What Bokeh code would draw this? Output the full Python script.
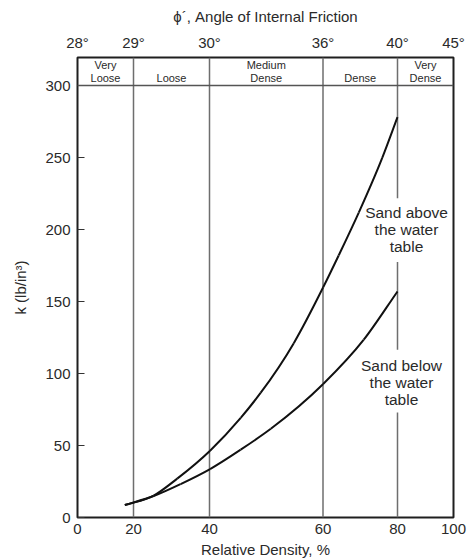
import numpy as np
from bokeh.plotting import figure
from bokeh.models import Range1d, LinearAxis, FixedTicker, Span
from bokeh.core.properties import value
from bokeh.embed import file_html
from bokeh.resources import INLINE

# ---------------- data ----------------
density_ticks = [0, 20, 40, 60, 80, 100]
density_labels = ["0", "20", "40", "60", "80", "100"]
phi_labels = ["28°", "29°", "30°", "36°", "40°", "45°"]
density_classes = ["Very\nLoose", "Loose", "Medium\nDense", "Dense", "Very\nDense"]
k_ticks = [0, 50, 100, 150, 200, 250, 300]

above_dr = [16.9, 25.3, 31.5, 40.1, 45.5, 49.0, 54.85, 60.05, 64.2, 69.6, 75.9, 80]
above_k = [8.65, 15.2, 27.0, 46.4, 69.2, 86.5, 121.1, 159.9, 182.0, 211.8, 249.8, 278.1]
below_dr = [16.9, 25.3, 32.4, 40.1, 45.5, 50.8, 60.05, 70.95, 80]
below_k = [8.65, 14.9, 23.2, 33.6, 47.1, 61.6, 92.7, 123.5, 157.0]

# ---------------- layout ----------------
# the original chart uses a non-uniform density scale: drawn position of each tick
AXIS_POS = [0, 56, 132, 245.5, 320, 376]
K_TOP = 319.5


def xpos(dr):
    return np.interp(dr, density_ticks, AXIS_POS)


def smooth_curve(p, xs, ys, **kw):
    """Draw a smooth curve through the given points (cubic Hermite pieces as bezier glyphs)."""
    x = np.asarray(xs, float)
    y = np.asarray(ys, float)
    dx = np.diff(x)
    s = np.diff(y) / dx
    m = np.empty_like(x)
    m[0], m[-1] = s[0], s[-1]
    m[1:-1] = (dx[:-1] * s[1:] + dx[1:] * s[:-1]) / (dx[:-1] + dx[1:])
    x0, y0, x1, y1 = x[:-1], y[:-1], x[1:], y[1:]
    p.bezier(x0=x0, y0=y0, x1=x1, y1=y1,
             cx0=x0 + dx / 3, cy0=y0 + m[:-1] * dx / 3,
             cx1=x1 - dx / 3, cy1=y1 - m[1:] * dx / 3, **kw)


FONT = "Liberation Sans"
TXT = "#2a2a2a"
GRID = "#6e6e6e"

p = figure(width=469, height=560, x_range=Range1d(0, AXIS_POS[-1]), y_range=Range1d(0, K_TOP),
           output_backend="svg", toolbar_location=None, x_axis_type=None, y_axis_type=None,
           min_border_left=77, min_border_right=16, min_border_top=57, min_border_bottom=42)
p.xgrid.visible = False
p.ygrid.visible = False
p.outline_line_color = "#1f1f1f"
p.outline_line_width = 2
p.background_fill_color = "white"


def style_axis(ax):
    ax.axis_line_color = None
    ax.major_tick_line_color = None
    ax.minor_tick_line_color = None
    ax.major_label_text_font = FONT
    ax.major_label_text_font_size = "15px"
    ax.major_label_text_color = TXT
    ax.axis_label_text_font = FONT
    ax.axis_label_text_font_size = "15px"
    ax.axis_label_text_font_style = "normal"
    ax.axis_label_text_color = TXT


bottom = LinearAxis(ticker=FixedTicker(ticks=AXIS_POS),
                    major_label_overrides={pos: lab for pos, lab in zip(AXIS_POS, density_labels)},
                    axis_label="Relative Density, %")
style_axis(bottom)
bottom.major_label_standoff = 0
bottom.axis_label_standoff = 4
p.add_layout(bottom, "below")

top = LinearAxis(ticker=FixedTicker(ticks=AXIS_POS),
                 major_label_overrides={pos: lab for pos, lab in zip(AXIS_POS, phi_labels)},
                 axis_label="ϕ´, Angle of Internal Friction")
style_axis(top)
top.major_label_standoff = 1
top.axis_label_standoff = 6
p.add_layout(top, "above")

left = LinearAxis(ticker=FixedTicker(ticks=k_ticks), axis_label="k (lb/in³)")
style_axis(left)
left.major_tick_line_color = "#333333"
left.major_tick_line_width = 1.2
left.major_tick_in = 7
left.major_tick_out = 0
left.major_label_standoff = 7
left.axis_label_standoff = 13
p.add_layout(left, "left")

# vertical divider lines (class boundaries / tick lines)
inner = density_ticks[1:4]
p.segment(x0=xpos(inner), y0=[0] * len(inner), x1=xpos(inner), y1=[K_TOP] * len(inner),
          line_color=GRID, line_width=1.5)
# line at 80 % interrupted by the curve labels
gap_lo = [0, 116.6, 221.8]
gap_hi = [73.0, 177.5, K_TOP]
x80 = float(xpos(80))
p.segment(x0=[x80] * 3, y0=gap_lo, x1=[x80] * 3, y1=gap_hi, line_color=GRID, line_width=1.5)

# horizontal line under the density classes
p.add_layout(Span(location=300, dimension="width", line_color="#555555", line_width=1.5))

# density class names
mids = [(AXIS_POS[i] + AXIS_POS[i + 1]) / 2 for i in range(len(density_classes))]
p.text(x=mids, y=[301.2] * len(mids), text=density_classes, text_align="center",
       text_baseline="bottom", text_font=value(FONT), text_font_size="11px",
       text_color=TXT, text_line_height=1.1)

# curves
smooth_curve(p, xpos(above_dr), above_k, line_color="#111111", line_width=2)
smooth_curve(p, xpos(below_dr), below_k, line_color="#111111", line_width=2)

# curve labels
p.text(x=[x80 + 9], y=[200.3], text=["Sand above\nthe water\ntable"], text_align="center",
       text_baseline="middle", text_font=value(FONT), text_font_size="15.5px",
       text_color=TXT, text_line_height=1.0)
p.text(x=[x80 + 4], y=[94.0], text=["Sand below\nthe water\ntable"], text_align="center",
       text_baseline="middle", text_font=value(FONT), text_font_size="15.5px",
       text_color=TXT, text_line_height=1.0)

open("out.html", "w").write(file_html(p, INLINE))
